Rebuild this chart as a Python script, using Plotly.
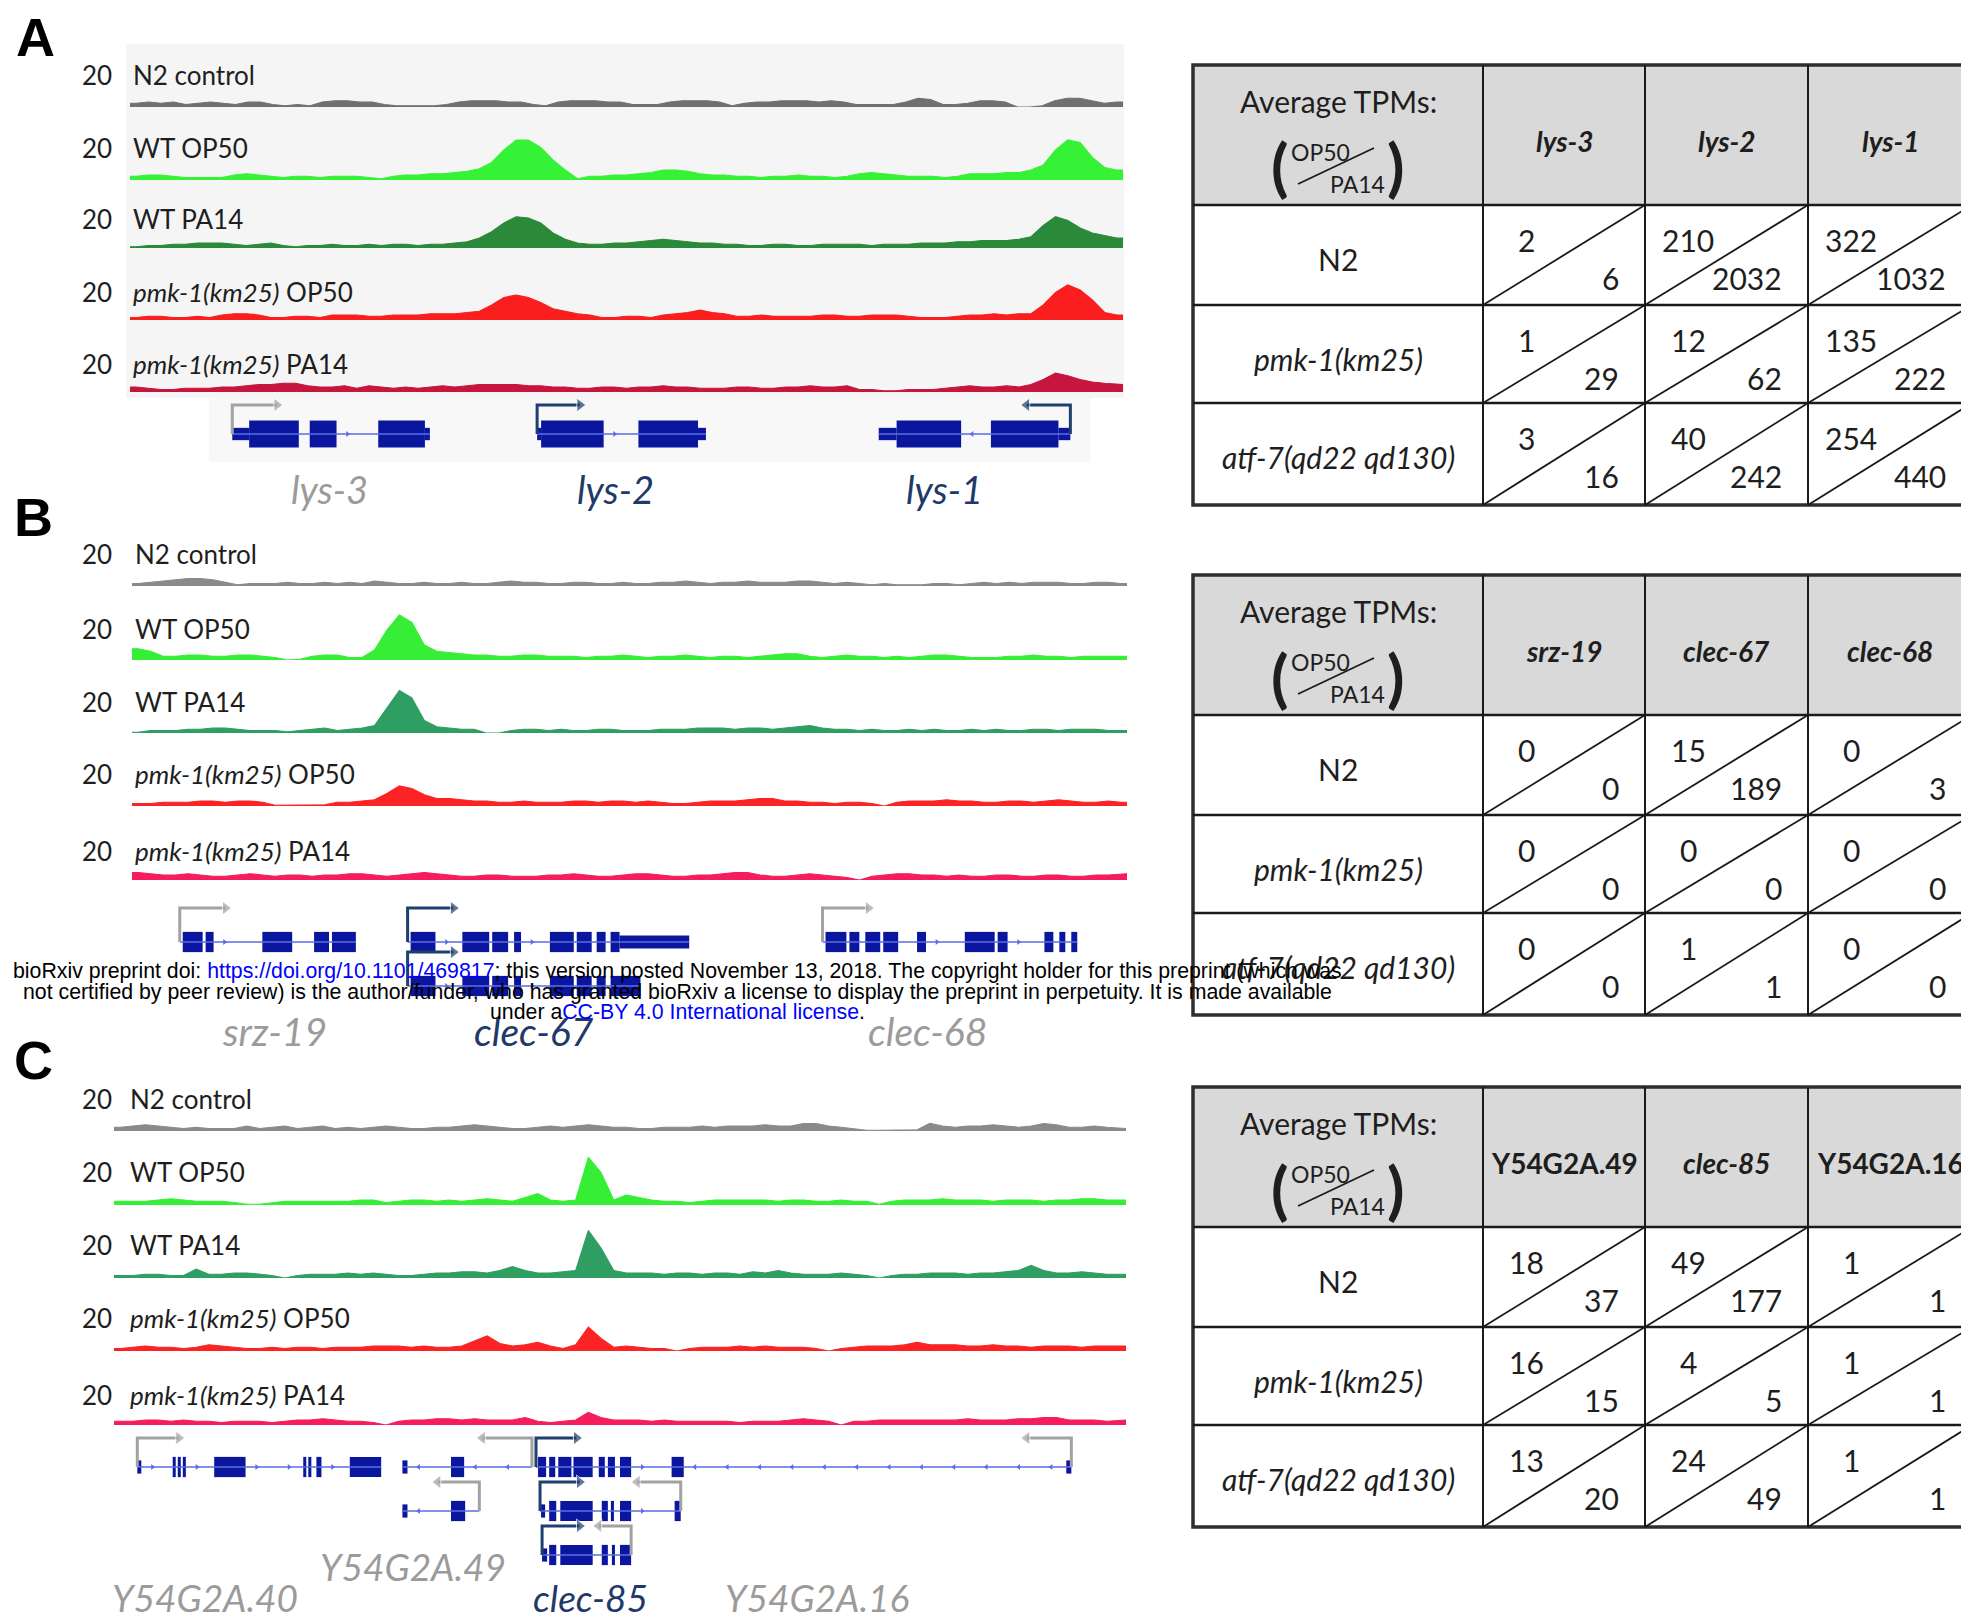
import plotly.graph_objects as go

W, H = 1969, 1620
OFF = 8                      # browser body margin
FW, FH = W - OFF, H - OFF
def px(x): return (x - OFF) / FW
def py(y): return 1 - (y - OFF) / FH

# ---------------- data: coverage tracks (scale 0-20) ----------------
TRACK_NAMES = ["N2 control", "WT OP50", "WT PA14",
               "<i>pmk-1(km25)</i> OP50", "<i>pmk-1(km25)</i> PA14"]
SCALE_LABEL = "20"

A_N2 = [1.5,2,1.5,2,1,1.5,2,1.5, 1,2,2,1,0.5,1,0.5, 2,2.5,2.5,2,2, 1,0.5,0.5,0.5,0.5,1,
        2,2.5,2.5,2.5,2,2, 1,0.5, 2,2.5,2.5,2.5,2,2, 1,1,1, 2,2.5,2.5,2.5,2, 0.5,1.5,
        2,2,2.5,2.5,2.5,2,2.5,2, 1,1,1,1, 2,3.5,3, 1,1,1.5, 2.5,2.5,2, 0,0,0.5,
        2.5,3.5,3.5,2.5, 1.5,2]
A_WT_OP50 = [1.5,2,2,1.5,1, 1,1,1, 2,2.5,2, 1.5,1,1.5,1.5,1,1.5,1.5, 1.5,1,0.5, 1.5,2,2,
             2.5,2.5,3,3.5,4.5, 7,12,16,16,13,8,4, 0.5, 1.5,1.5,2,2,2.5, 3,4,4,3.5,
             2.5,2,2,1.5,1.5,1, 1.5,1.5,2,1.5,1.5,1,1.5, 2.5,3,2.5, 2,1.5,1.5,1.5,1,1.5,2.5,
             2.5,2.5,3,3,4,6, 12,16,15,9, 5,4]
A_WT_PA14 = [0.5,1,1,1.5,1.5,2,2,2,1.5,1,1.5,2, 1,0.5,1,1,1.5,1,1,1.5,1,1.5,1.5,1,1.5,1.5,2,
             2.5,4,6.5, 10,12.5,12,10, 6,3.5, 2,1.5,1.5,2,2,2.5,3,3.5,3,2.5,2,2,
             1.5,1.5,1,1,1.5,1.5,1,1,1.5,1.5,1.5,1.5,1,1.5,1.5,1.5,2,2,2,2.5,2.5,3,3,
             3,3.5,4.5, 9,12.5,11,8, 6,5,4]
A_PMK_OP50 = [1,1.5,1.5,1,1,1.5,1, 2,2.5,2.5,2, 1,1,1.5,1.5,1, 2,2,2,1.5,
              1.5,2,2,2,2.5,2.5,2.5,3,3.5, 6,9,10,9,7, 4.5,3.5,2.5,2, 1,1,1.5,1.5,1,
              2,2.5,3,4,3,2.5, 1.5,1.5,2,1.5,1.5, 1.5,1.5,2,2,1.5, 1.5,2,2,2,1.5,1,1,1,1.5,
              2,2,2.5,2,2.5,2.5, 6,11,14,12,8, 3,2]
A_PMK_PA14 = [2,1.5,1,1,1.5,1.5,1.5,2,2,2.5,3,3,3.5,3.5, 2.5,2,2,2.5,1.5,2.5,2,
              1.5,2,1.5,2,2.5,2, 2.5,3,3,3,3,2.5,2.5,2,2, 1.5,1.5,2,2,1.5,2,2,2.5,2,2,1.5,1.5,
              1.5,2,2,1.5,1.5,2,2,2.5,2,2,2.5, 1,1,0.5,0.5,1,1,1, 1.5,2,2.5,2,2,2.5,2,
              3,5,7.5,6.5,5,4,3.5,3]

B_N2 = [1,1.5,2,2.5,3,3,2.5,1.5, 0.5,1, 1,1,1.5,1,1,1.5, 1,1.5,1,2,1.5,1,1,
        1.5,1,1,1.5,1,1,1.5,2, 1.5,1.5,1,1,1.5,1.5,1,1,1.5,1, 1,1.5,1.5,2,1.5,1,1.5,1.5,2,1.5,
        1.5,1.5,2,2,1.5,1,1.5,1,0.5,1, 0.5,0.5,0.5,1,1,0.5,1,1.5,1,1.5, 1,1.5,1.5,1.5,1,1,1.5,1.5,1]
B_WT_OP50 = [4.5,3.5,1.5, 1.5,2,2,1.5,1.5,2,2,1.5,1, 0,0.3, 1.5,2,2,1,1,
             4,12,18,15,6,3.5, 3,2.5,2,2, 1.5,1.5,2,2,1.5,1.5,1.5,1,1.5,1.5,2,1.5,
             1,1.5,1.5,2,1.5,1,1.5,1.5,1,1.5,2,2.5, 2.5,1.5,1,1.5,2,1.5,1.5,1,
             1.5,1,1.5,2,2,1.5,1,1,1,1.5, 1.5,2,1.5,1.5,1,1.5,1.5,1.5,1.5]
B_WT_PA14 = [0.3,1,1,1, 1.5,1.5,2,2,1.5,1,1, 1,0.5,1,1.5, 2,1,1.5,2,
             3,10,17,14,5,2.5, 2,1.5,1.5, 0,0, 1,1.5,1.5,1,1.5,1,1,1.5,1.5,1,1,
             1,1.5,1.5,1.5,2,2,2,1.5,2,2,1.5,2, 2.5,3,2,1.5,1.5,
             1,1.5,1,1,1.5,1,1.5,1,1,1.5,1, 1.5,1,1,1.5,1.5,1,1.5,1.5,1.5,1,1]
B_PMK_OP50 = [1,1,1.5,1.5,1.5,2,2,1.5,2,2,1.5, 0.3,0.3,0.3,0.5,0.5, 1.5,1.5,2,2.5,
              5,8,7,4.5, 3,3,2.5,2,2, 1.5,1.5,2,1.5,1.5,1.5,2,2,1.5,2,2,1.5,
              2,1.5,1,1,1.5,2,2,2,2.5,3, 3,2,2,1.5,1.5,1, 1.5,1.5,1,0,1.5,2,
              2,2,2.5,2,2,1.5,1.5,2,2,1.5,2,2.5,2,1.5,1.5,2,1.5]
B_PMK_PA14 = [3,2.5,2,2,2.5,2,1.5,1.5,2,2.5,2, 1.5,2,2,1.5,2,2,2.5,2.5,2,1.5,
              2,2.5,3,2.5,2,1.5,1.5,2,2,1.5, 1.5,1.5,2,2,2.5,2,1.5,1.5,2,2.5,
              2.5,2,1.5,1.5,2,2,2.5,3,3,2, 1.5,1.5,2,2.5,2,1.5,1,0,1.5,2,
              2.5,2.5,2,2,1.5,2,1.5,1.5,2,2, 1.5,1.5,2,2,1.5,1.5,2,2,2.5]

C_N2 = [1.5,2,2.5,2,1.5,1,1.5,1,1,1, 2,1,1.5,2,1,1.5,2,1,1.5,1, 1.5,2,1.5,1,1,1.5,1.5,2,2.5,2,
        1.5,1,1,1.5,2,1.5,2,2.5,2,1.5, 1.5,1,1,1.5,1.5,1.5,2,1.5,2,2, 2,2.5,2,2,3,3,2,1.5,1,
        0.3,0.3,0.3,0.3,0.5, 3,2,1.5,2,2,2.5,2,1.5, 2,3,2.5,1.5,1.5,2,1.5,1]
C_WT_OP50 = [1.5,1.5,1.5,2,2.5,2,1.5,1.5,1.5,1, 0.3,0.3, 1,1.5,1.5,1.5,1.5,1.5,1.5,2,2,
             1,1.5,2,2,1.5,2,1.5, 2,2.5,2,1.5,3,4.5,2,1.5, 2,19,13,2, 4,3,2,1.5,1.5,
             1,1.5,2,2,2,2,2,1.5,2,2,1.5,1.5,2,1.5,1.5, 0.3,
             1.5,2,2,2,2.5,2,2,2,1.5,2,2,2,1.5,2,2,2.5,2.5,2,2]
C_WT_PA14 = [1,1,1.5,1.5,1,1, 3.5,1.5, 1.5,2,2,1.5,1, 0, 1,1.5,1.5,1.5,2,1.5,2,1.5,1,1,
             1.5,2,2,2.5,2.5,2,3,4.5,3,2,2,2.5, 3,19,12,3, 2,2,2,1.5,2,2,1.5,2,2,1.5,2.5,2,
             3,2, 1.5,1.5,1.5,2,1.5,1, 0, 1,1.5,1.5,2,2,2,1.5,2,2,2.5,3, 5,3, 2,2,2.5,2,1.5,1.5]
C_PMK_OP50 = [1,1.5,2,1.5,1.5,1,1.5,2.5,2,1.5, 1,1,1.5,1,1.5,1.5,1,1.5,1.5,1.5,2,
              2,2,1.5,2,1.5,1.5,2, 4,6,3, 2,2.5,3.5,2,1, 2.5,9.5,5,1.5, 2,1.5,1,1, 0,
              1,1.5,1.5,1.5,2,1.5,2,1.5,1.5,1.5,1, 0, 1,1.5,2,2,2,2.5, 3.5,
              2.5,2.5,2.5,2,2,2.5,2,2,1.5,2,2,2,1.5,2,2,2]
C_PMK_PA14 = [1.5,1.5,2,2,1.5,2,1.5,1.5,1,1.5, 1.5,1.5,1,1.5,2,2,2.5,2,1.5,1.5,1, 0,
              1.5,2,2,2.5,2.5,2,2.5,2,2,2, 3, 1.5,1,1.5,2, 5,3, 2,2,2,1.5,2,1.5,1.5,1.5,
              1.5,1.5,1,1.5,1.5,1.5,2,2.5,2,1.5, 0,
              1.5,1.5,2,2,2,2,2,2,2,2.5,2,2,2,2.5,2.5,3,3,2,2,2,1.5,2]

# ---------------- data: gene models (genomic units 0-1000 across the window) ----------------
GENES_A = [
    dict(row=0, span=(103, 302), cds=[(120, 170), (181, 208), (250, 297)], utr=[(103, 120), (297, 302)], strand=1),
    dict(row=0, span=(410, 580), cds=[(414, 477), (512, 572)], utr=[(410, 414), (572, 580)], strand=1),
    dict(row=0, span=(754, 947), cds=[(772, 837), (867, 935)], utr=[(754, 772), (935, 947)], strand=-1),
]
TSS_A = [(0, 103, 148, "gray"), (0, 410, 453, "navy"), (0, 947, 903, "navy")]

GENES_B = [
    dict(row=0, span=(48, 225), cds=[(51, 71), (74, 82), (131, 161), (183, 198), (201, 225)], utr=[], strand=1),
    dict(row=0, span=(277, 560), cds=[(280, 305), (332, 359), (362, 378), (384, 391), (420, 444), (447, 462),
                                     (467, 476), (481, 490)], utr=[(490, 560)], strand=1),
    dict(row=1, span=(277, 511), cds=[(280, 305), (332, 359), (362, 378), (384, 391), (420, 444), (447, 462),
                                     (467, 476), (481, 511)], utr=[], strand=1),
    dict(row=0, span=(694, 950), cds=[(697, 718), (721, 731), (737, 752), (755, 770), (789, 798), (837, 867),
                                     (870, 880), (917, 926), (932, 938), (944, 950)], utr=[], strand=1),
]
TSS_B = [(0, 48, 94, "gray"), (0, 277, 323, "navy"), (1, 277, 323, "navy"), (0, 694, 740, "gray")]

GENES_C = [
    dict(row=0, span=(23, 264), cds=[(58, 61), (63, 66), (68, 71), (99, 130), (187, 190), (192, 195), (200, 205),
                                    (233, 264)], utr=[(23, 27)], strand=1),
    dict(row=0, span=(285, 413), cds=[(333, 346)], utr=[(285, 290)], strand=-1),
    dict(row=0, span=(417, 563), cds=[(419, 427), (430, 436), (439, 452), (454, 473), (479, 485), (488, 495),
                                     (500, 511), (551, 563)], utr=[], strand=1),
    dict(row=0, span=(563, 946), cds=[], utr=[(941, 946)], strand=-1),
    dict(row=1, span=(285, 361), cds=[(333, 347)], utr=[(285, 290)], strand=-1),
    dict(row=1, span=(421, 560), cds=[(430, 437), (441, 473), (482, 488), (491, 494), (500, 511), (554, 560)],
         utr=[(422, 426)], strand=1),
    dict(row=2, span=(423, 511), cds=[(430, 437), (441, 473), (482, 488), (492, 495), (500, 511)],
         utr=[(423, 428)], strand=1),
]
TSS_C = [(0, 23, 64, "gray"), (0, 413, 364, "gray"), (0, 417, 457, "navy"), (0, 946, 902, "gray"),
         (1, 361, 320, "gray"), (1, 421, 460, "navy"), (1, 560, 517, "gray"),
         (2, 423, 460, "navy"), (2, 511, 479, "gray")]

GENE_LABELS_A = [("lys-3", "gray"), ("lys-2", "navy"), ("lys-1", "navy")]
GENE_LABELS_B = [("srz-19", "gray"), ("clec-67", "navy"), ("clec-68", "gray")]
GENE_LABELS_C = [("Y54G2A.40", "gray"), ("Y54G2A.49", "gray"), ("clec-85", "navy"), ("Y54G2A.16", "gray")]

# ---------------- data: tables ----------------
TABLE_TITLE = "Average TPMs:"
ROW_LABELS = ["N2", "<i>pmk-1(km25)</i>", "<i>atf-7(qd22 qd130)</i>"]
HEAD_A = ["lys-3", "lys-2", "lys-1"];           ITAL_A = [True, True, True]
HEAD_B = ["srz-19", "clec-67", "clec-68"];      ITAL_B = [True, True, True]
HEAD_C = ["Y54G2A.49", "clec-85", "Y54G2A.16"]; ITAL_C = [False, True, False]
OP50_A = [[2, 210, 322], [1, 12, 135], [3, 40, 254]]
PA14_A = [[6, 2032, 1032], [29, 62, 222], [16, 242, 440]]
OP50_B = [[0, 15, 0], [0, 0, 0], [0, 1, 0]]
PA14_B = [[0, 189, 3], [0, 0, 0], [0, 1, 0]]
OP50_C = [[18, 49, 1], [16, 4, 1], [13, 24, 1]]
PA14_C = [[37, 177, 1], [15, 5, 1], [20, 49, 1]]

WATERMARK = [
    'bioRxiv preprint doi: <span style="color:#0000ff">https://doi.org/10.1101/469817</span>; this version posted November 13, 2018. The copyright holder for this preprint (which was',
    'not certified by peer review) is the author/funder, who has granted bioRxiv a license to display the preprint in perpetuity. It is made available',
    'under a<span style="color:#0000ff">CC-BY 4.0 International license</span>.',
]

# ---------------- styles / layout geometry ----------------
COLORS_A = ['#707070', '#36f236', '#2b8a3a', '#fb1e1e', '#c6163e']
COLORS_BC = ['#8a8a8a', '#36ee36', '#2f9e63', '#fb2323', '#f51d5c']
ARROW_COL = {"gray": "#a2a2a2", "navy": "#1f3f6f"}
LABEL_COL = {"gray": "#9b9b9b", "navy": "#1f3a68"}
EXON_COL = '#0b169f'
INTRON_COL = '#5c6ce2'
TXT = '#1e1e1e'
FONT = 'Lato'
TFS = 30   # table font size

PANELS = [
    dict(letter="A", lpos=(35, 37), x0=130, x1=1123, base=[107, 180, 248, 320, 392],
         lab=[75, 148, 219, 292, 364], labx=131,
         tracks=[A_N2, A_WT_OP50, A_WT_PA14, A_PMK_OP50, A_PMK_PA14], colors=COLORS_A,
         genes=GENES_A, tss=TSS_A, row0=434, nrows=1, thick=0.61, thin=0.28, arrow_h=0.66,
         labels=GENE_LABELS_A, label_pos=[(329, 489), (615, 489), (944, 489)], label_size=38,
         table_top=65, head=HEAD_A, ital=ITAL_A, op50=OP50_A, pa14=PA14_A),
    dict(letter="B", lpos=(33, 517), x0=132, x1=1127, base=[586, 660, 733, 806, 880],
         lab=[554, 629, 702, 774, 851], labx=133,
         tracks=[B_N2, B_WT_OP50, B_WT_PA14, B_PMK_OP50, B_PMK_PA14], colors=COLORS_BC,
         genes=GENES_B, tss=TSS_B, row0=942, nrows=2, thick=0.46, thin=0.3, arrow_h=0.77,
         labels=GENE_LABELS_B, label_pos=[(274, 1031), (534, 1031), (927, 1031)], label_size=39,
         table_top=575, head=HEAD_B, ital=ITAL_B, op50=OP50_B, pa14=PA14_B),
    dict(letter="C", lpos=(33, 1060), x0=114, x1=1126, base=[1131, 1205, 1278, 1351, 1425],
         lab=[1099, 1172, 1245, 1318, 1395], labx=128,
         tracks=[C_N2, C_WT_OP50, C_WT_PA14, C_PMK_OP50, C_PMK_PA14], colors=COLORS_BC,
         genes=GENES_C, tss=TSS_C, row0=1467, nrows=3, thick=0.46, thin=0.3, arrow_h=0.66,
         labels=GENE_LABELS_C, label_pos=[(205, 1597), (413, 1566), (590, 1597), (817, 1597)], label_size=37,
         table_top=1087, head=HEAD_C, ital=ITAL_C, op50=OP50_C, pa14=PA14_C),
]
ROW_PX = 44
TRACK_PX = 50

fig = go.Figure()
axes = {}
counter = [0]
anns = []
shapes = []

def new_axes(xdom, ydom, xr, yr):
    counter[0] += 1
    k = counter[0]
    s = '' if k == 1 else str(k)
    axes['xaxis' + s] = dict(domain=xdom, range=xr, visible=False, fixedrange=True, anchor='y' + s, type='linear')
    axes['yaxis' + s] = dict(domain=ydom, range=yr, visible=False, fixedrange=True, anchor='x' + s, type='linear')
    return 'x' + s, 'y' + s

def text(x, y, t, size, color=TXT, xa='center', ya='middle', family=FONT):
    anns.append(dict(x=px(x), y=py(y), xref='paper', yref='paper', text=t, showarrow=False,
                     font=dict(family=family, size=size, color=color), xanchor=xa, yanchor=ya))

def rect(x0, y0, x1, y1, fill='rgba(0,0,0,0)', lc='rgba(0,0,0,0)', lw=0, layer='below'):
    shapes.append(dict(type='rect', xref='paper', yref='paper', x0=px(x0), x1=px(x1), y0=py(y0), y1=py(y1),
                       fillcolor=fill, line=dict(color=lc, width=lw), layer=layer))

def line(x0, y0, x1, y1, color='#1a1a1a', w=2):
    shapes.append(dict(type='line', xref='paper', yref='paper', x0=px(x0), x1=px(x1), y0=py(y0), y1=py(y1),
                       line=dict(color=color, width=w), layer='above'))

# light background of panel A browser view
rect(126, 44, 1124, 398, fill='#f5f5f5')
rect(209, 398, 1090, 462, fill='#f8f8f8')

for P in PANELS:
    text(P['lpos'][0], P['lpos'][1], "<b>%s</b>" % P['letter'], 54, '#000000', family='Liberation Sans')
    # coverage tracks
    for i, vals in enumerate(P['tracks']):
        b = P['base'][i]
        n = len(vals)
        xa, ya = new_axes([px(P['x0']), px(P['x1'])], [py(b), py(b - TRACK_PX)], [0, n], [0, 20])
        c = P['colors'][i]
        xs = [0] + [k + 0.5 for k in range(n)] + [n]
        ys = [vals[0]] + list(vals) + [vals[-1]]
        fig.add_trace(go.Scatter(x=xs, y=ys, mode='lines',
                                 line=dict(color=c, width=1.2, shape='linear'), fill='tozeroy', fillcolor=c,
                                 xaxis=xa, yaxis=ya, hoverinfo='skip', showlegend=False))
        text(114, P['lab'][i], SCALE_LABEL, 26, xa='right')
        text(P['labx'], P['lab'][i], TRACK_NAMES[i], 26, xa='left')
    # gene models
    nr = P['nrows']
    top = P['row0'] - ROW_PX
    bot = P['row0'] + ROW_PX * (nr - 0.5)
    gx, gy = new_axes([px(P['x0']), px(P['x1'])], [py(bot), py(top)], [0, 1000], [nr - 0.5, -1])
    cds_s, cds_l, cds_r, utr_s, utr_l, utr_r = [], [], [], [], [], []
    chev_x, chev_y, chev_sym = [], [], []
    for g in P['genes']:
        fig.add_trace(go.Scatter(x=[g['span'][0], g['span'][1]], y=[g['row'], g['row']], mode='lines',
                                 line=dict(color=INTRON_COL, width=1.5), xaxis=gx, yaxis=gy,
                                 hoverinfo='skip', showlegend=False))
        for (s, e) in g['cds']:
            cds_s.append(s); cds_l.append(e - s); cds_r.append(g['row'])
        for (s, e) in g['utr']:
            utr_s.append(s); utr_l.append(e - s); utr_r.append(g['row'])
        blocks = sorted(g['cds'] + g['utr'])
        edges = [g['span'][0]] + [v for bl in blocks for v in bl] + [g['span'][1]]
        for k in range(0, len(edges) - 1, 2):
            a, bnd = edges[k], edges[k + 1]
            if bnd - a > 22:
                p = a + 11
                while p < bnd - 6:
                    chev_x.append(p); chev_y.append(g['row'])
                    chev_sym.append('triangle-right' if g['strand'] > 0 else 'triangle-left')
                    p += 32
    if chev_x:
        fig.add_trace(go.Scatter(x=chev_x, y=chev_y, mode='markers',
                                 marker=dict(symbol=chev_sym, size=5, color=INTRON_COL),
                                 xaxis=gx, yaxis=gy, hoverinfo='skip', showlegend=False))
    fig.add_trace(go.Bar(x=utr_l, base=utr_s, y=utr_r, orientation='h', width=P['thin'],
                         marker=dict(color=EXON_COL, line=dict(width=0)), xaxis=gx, yaxis=gy,
                         hoverinfo='skip', showlegend=False))
    fig.add_trace(go.Bar(x=cds_l, base=cds_s, y=cds_r, orientation='h', width=P['thick'],
                         marker=dict(color=EXON_COL, line=dict(width=0)), xaxis=gx, yaxis=gy,
                         hoverinfo='skip', showlegend=False))
    for (r, tss, end, col) in P['tss']:
        h = r - P['arrow_h']
        sym = 'triangle-right' if end > tss else 'triangle-left'
        fig.add_trace(go.Scatter(x=[tss, tss, end], y=[r, h, h], mode='lines+markers',
                                 line=dict(color=ARROW_COL[col], width=3),
                                 marker=dict(size=[0, 0, 12], symbol=sym, color=ARROW_COL[col]),
                                 xaxis=gx, yaxis=gy, hoverinfo='skip', showlegend=False))
    for (name, col), (lx, ly) in zip(P['labels'], P['label_pos']):
        text(lx, ly, "<i>%s</i>" % name, P['label_size'], LABEL_COL[col])

    # table
    t = P['table_top']
    cols = [1193, 1483, 1645, 1808, 1972]
    rows = [t, t + 140, t + 240, t + 338, t + 440]
    rect(cols[0], rows[0], cols[-1], rows[1], fill='#d9d9d9')
    rect(cols[0], rows[0], cols[-1], rows[-1], fill='rgba(0,0,0,0)', lc='#2e2e2e', lw=3.5, layer='above')
    for x in cols[1:-1]:
        line(x, rows[0], x, rows[-1])
    for y in rows[1:-1]:
        line(cols[0], y, cols[-1], y, w=2.5)
    text(1338, t + 36, TABLE_TITLE, TFS)
    text(1280, t + 101, "<b>(</b>", 64)
    text(1396, t + 101, "<b>)</b>", 64)
    text(1320, t + 87, "OP50", 23)
    text(1357, t + 119, "PA14", 23)
    line(1298, t + 119, 1374, t + 83, color='#1a1a1a', w=1.8)
    for j, name in enumerate(P['head']):
        s = "<b><i>%s</i></b>" % name if P['ital'][j] else "<b>%s</b>" % name
        text((cols[j + 1] + cols[j + 2]) / 2, t + 76, s, 28)
    for i in range(3):
        text(1338, rows[i + 1] + 54, ROW_LABELS[i], TFS)
        for j in range(3):
            line(cols[j + 1], rows[i + 2], cols[j + 2], rows[i + 1], color='#1a1a1a', w=1.8)
            text(cols[j + 1] + 43, rows[i + 1] + 35, str(P['op50'][i][j]), TFS)
            text(cols[j + 2] - 24, rows[i + 1] + 73, str(P['pa14'][i][j]), TFS, xa='right')

for ln, yy in zip(WATERMARK, [971, 992, 1012]):
    text(677, yy, ln, 21.3, '#000000', family='Liberation Sans')

fig.update_layout(width=FW, height=FH, margin=dict(l=0, r=0, t=0, b=0), paper_bgcolor='white',
                  plot_bgcolor='rgba(0,0,0,0)', showlegend=False, barmode='overlay',
                  annotations=anns, shapes=shapes, **axes)
fig.write_html("out.html")
